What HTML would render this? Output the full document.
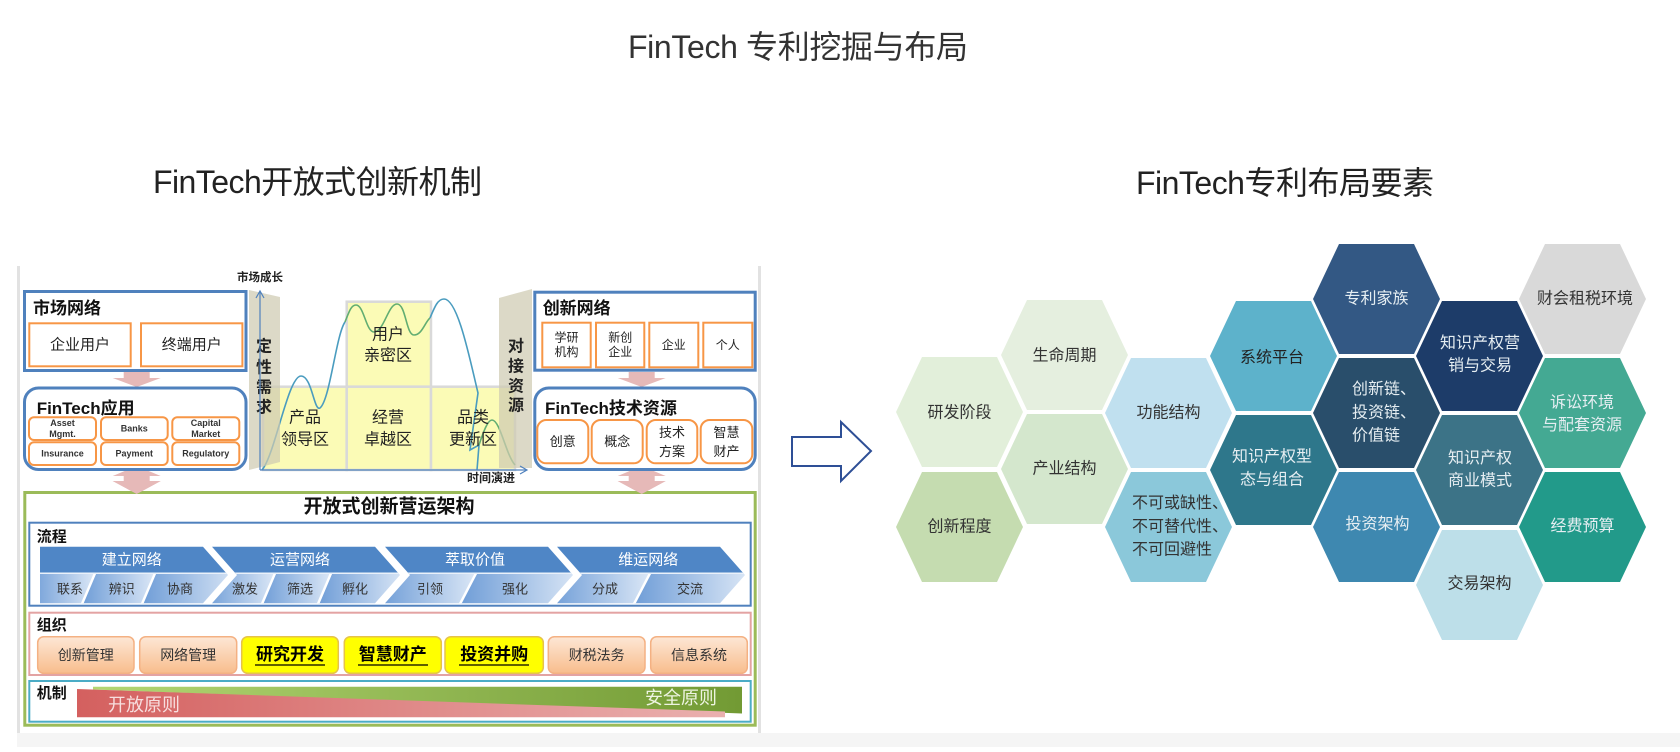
<!DOCTYPE html>
<html>
<head>
<meta charset="utf-8">
<style>
  html,body{margin:0;padding:0;background:#fff;}
  body{width:1680px;height:747px;overflow:hidden;}
  svg text{font-family:"Liberation Sans","Noto Sans CJK SC",sans-serif;}
</style>
</head>
<body>
<svg width="1680" height="747" viewBox="0 0 1680 747" xmlns="http://www.w3.org/2000/svg" xmlns:xlink="http://www.w3.org/1999/xlink">
  <defs>
    <polygon id="hx" points="0,55 26,0 101,0 127,55 101,110 26,110"/>
    <linearGradient id="lowg" x1="0" y1="0" x2="1" y2="0">
      <stop offset="0" stop-color="#6f9dd7"/>
      <stop offset="1" stop-color="#dbe7f6"/>
    </linearGradient>
    <linearGradient id="orang" x1="0" y1="0" x2="0" y2="1">
      <stop offset="0" stop-color="#fde7d6"/>
      <stop offset="1" stop-color="#f8bd8c"/>
    </linearGradient>
    <linearGradient id="greeng" x1="0" y1="0" x2="1" y2="0">
      <stop offset="0" stop-color="#b3d673"/>
      <stop offset="1" stop-color="#729a34"/>
    </linearGradient>
    <linearGradient id="redg" x1="0" y1="0" x2="1" y2="0">
      <stop offset="0" stop-color="#d4605f"/>
      <stop offset="1" stop-color="#eab0af"/>
    </linearGradient>
    <clipPath id="ch0"><polygon points="40,546.7 203,546.7 228,575 203,603.3 40,603.3"/></clipPath>
    <clipPath id="ch1"><polygon points="212,546.7 375,546.7 400,575 375,603.3 212,603.3 237,575"/></clipPath>
    <clipPath id="ch2"><polygon points="385,546.7 548,546.7 573,575 548,603.3 385,603.3 410,575"/></clipPath>
    <clipPath id="ch3"><polygon points="557,546.7 720,546.7 745,575 720,603.3 557,603.3 582,575"/></clipPath>
  </defs>

  <!-- Titles -->
  <text x="628" y="58" font-size="32" textLength="340" fill="#333">FinTech 专利挖掘与布局</text>
  <text x="153" y="193" font-size="32" textLength="329" fill="#222">FinTech开放式创新机制</text>
  <text x="1136" y="194" font-size="32" textLength="298" fill="#222">FinTech专利布局要素</text>

  <!-- Left diagram frame -->
  <rect x="17" y="266" width="3" height="467" fill="#e2e2e2"/>
  <rect x="758" y="266" width="3" height="467" fill="#e2e2e2"/>
  <rect x="17" y="733" width="1663" height="14" fill="#f5f5f5"/>

  <!-- Yellow grid -->
  <rect x="346.7" y="301.7" width="84.3" height="85" fill="#fbfbb6" stroke="#d9d9d9" stroke-width="2.5"/>
  <rect x="263" y="386.7" width="83.7" height="83.3" fill="#fbfbb6" stroke="#d9d9d9" stroke-width="2.5"/>
  <rect x="346.7" y="386.7" width="84.3" height="83.3" fill="#fbfbb6" stroke="#d9d9d9" stroke-width="2.5"/>
  <rect x="431" y="386.7" width="84" height="83.3" fill="#fbfbb6" stroke="#d9d9d9" stroke-width="2.5"/>

  <!-- Curve -->
  <path d="M262,470 C275,455 288,376 301,376 C312,376 314,412 320,408 C330,400 336,335 345,322" fill="none" stroke="#4a9cbf" stroke-width="1.6"/>
  <path d="M345,322 C349,312 351,305 356,305 C364,305 366,332 374,332 C384,332 388,304 397,304 C406,304 406,335 414,335 C422,335 425,322 430,318" fill="none" stroke="#62ad72" stroke-width="1.6"/>
  <path d="M430,318 C435,306 438,299 444,299 C458,299 470,360 478,393 L470,450 L479,445 L477,470" fill="none" stroke="#4a9cbf" stroke-width="1.6"/>
  <path d="M479,445 C484,430 488,420 492,420 C500,420 506,455 515,465" fill="none" stroke="#62ad72" stroke-width="1.6"/>

  <!-- Yellow cell text -->
  <g font-size="16" fill="#222" text-anchor="middle" dominant-baseline="central">
    <text x="388" y="335">用户</text>
    <text x="388" y="356">亲密区</text>
    <text x="305" y="418">产品</text>
    <text x="305" y="440">领导区</text>
    <text x="388" y="418">经营</text>
    <text x="388" y="440">卓越区</text>
    <text x="473" y="418">品类</text>
    <text x="473" y="440">更新区</text>
  </g>

  <!-- Gray bands -->
  <polygon points="249,290 280,297 280,462 249,470" fill="#cfcbb2" opacity="0.72"/>
  <polygon points="499,298 532,289 532,468 499,468" fill="#cfcbb2" opacity="0.72"/>
  <g font-size="16" font-weight="bold" fill="#222" text-anchor="middle" dominant-baseline="central">
    <text x="264" y="347">定</text>
    <text x="264" y="368">性</text>
    <text x="264" y="388">需</text>
    <text x="264" y="408">求</text>
    <text x="516" y="347">对</text>
    <text x="516" y="367">接</text>
    <text x="516" y="387">资</text>
    <text x="516" y="406">源</text>
  </g>

  <!-- Axes -->
  <line x1="260" y1="470" x2="260" y2="292" stroke="#4f81bd" stroke-width="1.2"/>
  <polyline points="256,298 260,291 264,298" fill="none" stroke="#4f81bd" stroke-width="1.2"/>
  <line x1="260" y1="470" x2="526" y2="470" stroke="#4f81bd" stroke-width="1.2"/>
  <polyline points="520,466 527,470 520,474" fill="none" stroke="#4f81bd" stroke-width="1.2"/>
  <text x="260" y="278" font-size="11.5" font-weight="bold" fill="#222" text-anchor="middle" dominant-baseline="central">市场成长</text>
  <text x="491" y="478" font-size="12" font-weight="bold" fill="#222" text-anchor="middle" dominant-baseline="central">时间演进</text>

  <!-- 市场网络 -->
  <rect x="24.5" y="291.5" width="221.5" height="79" fill="#fff" stroke="#4f81bd" stroke-width="3"/>
  <text x="33" y="314" font-size="17" font-weight="bold" fill="#111">市场网络</text>
  <rect x="29.3" y="323.3" width="101.4" height="43" fill="#fff" stroke="#f79646" stroke-width="2"/>
  <rect x="141" y="323.3" width="101.4" height="43" fill="#fff" stroke="#f79646" stroke-width="2"/>
  <g font-size="15" fill="#222" text-anchor="middle" dominant-baseline="central">
    <text x="80" y="345">企业用户</text>
    <text x="191.7" y="345">终端用户</text>
  </g>

  <!-- pink arrows left -->
  <polygon points="123.7,372 149.7,372 149.7,378 160.7,378 136.7,387 112.7,378 123.7,378" fill="#e6b9b8"/>
  <polygon points="136.7,466 160.7,476 149.7,476 149.7,481 160.7,481 136.7,494 112.7,481 123.7,481 123.7,476 112.7,476" fill="#e6b9b8"/>
  <!-- pink arrows right -->
  <polygon points="628.7,372 654.7,372 654.7,378 665.7,378 641.7,387 617.7,378 628.7,378" fill="#e6b9b8"/>
  <polygon points="641.7,466 665.7,476 654.7,476 654.7,481 665.7,481 641.7,494 617.7,481 628.7,481 628.7,476 617.7,476" fill="#e6b9b8"/>

  <!-- FinTech应用 -->
  <rect x="24.5" y="388" width="221.5" height="81.5" rx="14" fill="#fff" stroke="#4f81bd" stroke-width="3"/>
  <text x="36.7" y="414" font-size="17" font-weight="bold" fill="#111">FinTech应用</text>
  <g fill="#fff" stroke="#f79646" stroke-width="2">
    <rect x="29" y="417.3" width="67" height="22.7" rx="5"/>
    <rect x="101" y="417.3" width="66.7" height="22.7" rx="5"/>
    <rect x="172.3" y="417.3" width="67" height="22.7" rx="5"/>
    <rect x="29" y="442.3" width="67" height="22.7" rx="5"/>
    <rect x="101" y="442.3" width="66.7" height="22.7" rx="5"/>
    <rect x="172.3" y="442.3" width="67" height="22.7" rx="5"/>
  </g>
  <g font-size="9" font-weight="bold" fill="#333" text-anchor="middle" dominant-baseline="central">
    <text x="62.5" y="423">Asset</text>
    <text x="62.5" y="434">Mgmt.</text>
    <text x="134.3" y="428.5">Banks</text>
    <text x="205.8" y="423">Capital</text>
    <text x="205.8" y="434">Market</text>
    <text x="62.5" y="453.5">Insurance</text>
    <text x="134.3" y="453.5">Payment</text>
    <text x="205.8" y="453.5">Regulatory</text>
  </g>

  <!-- 创新网络 -->
  <rect x="534.8" y="292.2" width="220.4" height="78" fill="#fff" stroke="#4f81bd" stroke-width="3"/>
  <text x="542.7" y="314" font-size="17" font-weight="bold" fill="#111">创新网络</text>
  <g fill="#fff" stroke="#f79646" stroke-width="2">
    <rect x="542.3" y="322.7" width="48.4" height="44.6"/>
    <rect x="596" y="322.7" width="48.3" height="44.6"/>
    <rect x="649.3" y="322.7" width="49" height="44.6"/>
    <rect x="703.3" y="322.7" width="49" height="44.6"/>
  </g>
  <g font-size="12" fill="#222" text-anchor="middle" dominant-baseline="central">
    <text x="566.5" y="337.5">学研</text>
    <text x="566.5" y="352">机构</text>
    <text x="620.2" y="337.5">新创</text>
    <text x="620.2" y="352">企业</text>
    <text x="673.8" y="345">企业</text>
    <text x="727.8" y="345">个人</text>
  </g>

  <!-- FinTech技术资源 -->
  <rect x="534.8" y="388" width="220.4" height="81.5" rx="14" fill="#fff" stroke="#4f81bd" stroke-width="3"/>
  <text x="545" y="414" font-size="17" font-weight="bold" fill="#111">FinTech技术资源</text>
  <g fill="#fff" stroke="#f79646" stroke-width="2">
    <rect x="537.3" y="420" width="51" height="43.3" rx="9"/>
    <rect x="591.7" y="420" width="51" height="43.3" rx="9"/>
    <rect x="646.7" y="420" width="50.6" height="43.3" rx="9"/>
    <rect x="700.7" y="420" width="51.6" height="43.3" rx="9"/>
  </g>
  <g font-size="13" fill="#222" text-anchor="middle" dominant-baseline="central">
    <text x="562.8" y="441.7">创意</text>
    <text x="617.2" y="441.7">概念</text>
    <text x="672" y="432.3">技术</text>
    <text x="672" y="451.7">方案</text>
    <text x="726.5" y="432.3">智慧</text>
    <text x="726.5" y="451.7">财产</text>
  </g>

  <!-- Big green frame -->
  <rect x="24.8" y="492.5" width="730.4" height="232.7" fill="#fff" stroke="#9bbb59" stroke-width="3"/>
  <polygon points="123.7,481 149.7,481 160.7,481 136.7,494 112.7,481" fill="#e6b9b8"/>
  <polygon points="628.7,481 654.7,481 665.7,481 641.7,494 617.7,481" fill="#e6b9b8"/>
  <text x="389" y="507" font-size="19" font-weight="bold" fill="#111" text-anchor="middle" dominant-baseline="central">开放式创新营运架构</text>

  <!-- 流程 -->
  <rect x="29.3" y="522.7" width="721.4" height="83" fill="#fff" stroke="#4f81bd" stroke-width="2"/>
  <text x="36.7" y="537" font-size="15" font-weight="bold" fill="#111" dominant-baseline="central">流程</text>

  <g clip-path="url(#ch0)">
    <rect x="30" y="546" width="210" height="28" fill="#4f86c6"/>
    <polygon points="30,573.3 95,573.3 82,604 30,604" fill="url(#lowg)"/>
    <polygon points="95,573.3 155,573.3 142,604 82,604" fill="url(#lowg)"/>
    <polygon points="155,573.3 240,573.3 240,604 142,604" fill="url(#lowg)"/>
    <line x1="82" y1="604" x2="95" y2="573.3" stroke="#fff" stroke-width="2.5"/>
    <line x1="142" y1="604" x2="155" y2="573.3" stroke="#fff" stroke-width="2.5"/>
    <line x1="30" y1="573.3" x2="240" y2="573.3" stroke="#eaf1fa" stroke-width="1.5"/>
  </g>
  <g clip-path="url(#ch1)">
    <rect x="205" y="546" width="200" height="28" fill="#4f86c6"/>
    <polygon points="205,573.3 275,573.3 262,604 205,604" fill="url(#lowg)"/>
    <polygon points="275,573.3 331,573.3 318,604 262,604" fill="url(#lowg)"/>
    <polygon points="331,573.3 405,573.3 405,604 318,604" fill="url(#lowg)"/>
    <line x1="262" y1="604" x2="275" y2="573.3" stroke="#fff" stroke-width="2.5"/>
    <line x1="318" y1="604" x2="331" y2="573.3" stroke="#fff" stroke-width="2.5"/>
    <line x1="205" y1="573.3" x2="405" y2="573.3" stroke="#eaf1fa" stroke-width="1.5"/>
  </g>
  <g clip-path="url(#ch2)">
    <rect x="380" y="546" width="200" height="28" fill="#4f86c6"/>
    <polygon points="380,573.3 476,573.3 460,604 380,604" fill="url(#lowg)"/>
    <polygon points="476,573.3 580,573.3 580,604 460,604" fill="url(#lowg)"/>
    <line x1="460" y1="604" x2="476" y2="573.3" stroke="#fff" stroke-width="2.5"/>
    <line x1="380" y1="573.3" x2="580" y2="573.3" stroke="#eaf1fa" stroke-width="1.5"/>
  </g>
  <g clip-path="url(#ch3)">
    <rect x="550" y="546" width="200" height="28" fill="#4f86c6"/>
    <polygon points="550,573.3 650,573.3 634,604 550,604" fill="url(#lowg)"/>
    <polygon points="650,573.3 750,573.3 750,604 634,604" fill="url(#lowg)"/>
    <line x1="634" y1="604" x2="650" y2="573.3" stroke="#fff" stroke-width="2.5"/>
    <line x1="550" y1="573.3" x2="750" y2="573.3" stroke="#eaf1fa" stroke-width="1.5"/>
  </g>
  <g font-size="15" fill="#fff" text-anchor="middle" dominant-baseline="central">
    <text x="131.7" y="560">建立网络</text>
    <text x="300" y="560">运营网络</text>
    <text x="475" y="560">萃取价值</text>
    <text x="648.3" y="560">维运网络</text>
  </g>
  <g font-size="13" fill="#333" text-anchor="middle" dominant-baseline="central">
    <text x="70" y="589">联系</text>
    <text x="121.7" y="589">辨识</text>
    <text x="180" y="589">协商</text>
    <text x="245" y="589">激发</text>
    <text x="300" y="589">筛选</text>
    <text x="355" y="589">孵化</text>
    <text x="430" y="589">引领</text>
    <text x="515" y="589">强化</text>
    <text x="605" y="589">分成</text>
    <text x="690" y="589">交流</text>
  </g>

  <!-- 组织 -->
  <rect x="29.3" y="612.7" width="721.4" height="62.3" fill="#fff" stroke="#e3a3a3" stroke-width="2"/>
  <text x="36.7" y="625.5" font-size="15" font-weight="bold" fill="#111" dominant-baseline="central">组织</text>
  <g stroke-width="1.5">
    <rect x="37.7" y="636.7" width="96.3" height="36.6" rx="6" fill="url(#orang)" stroke="#f4b183"/>
    <rect x="139.7" y="636.7" width="97" height="36.6" rx="6" fill="url(#orang)" stroke="#f4b183"/>
    <rect x="241.7" y="636.7" width="96.6" height="36.6" rx="6" fill="#ffff00" stroke="#e6c34a"/>
    <rect x="344.3" y="636.7" width="97" height="36.6" rx="6" fill="#ffff00" stroke="#e6c34a"/>
    <rect x="445" y="636.7" width="98.3" height="36.6" rx="6" fill="#ffff00" stroke="#e6c34a"/>
    <rect x="548.3" y="636.7" width="96.7" height="36.6" rx="6" fill="url(#orang)" stroke="#f4b183"/>
    <rect x="650.7" y="636.7" width="96.6" height="36.6" rx="6" fill="url(#orang)" stroke="#f4b183"/>
  </g>
  <g font-size="14" fill="#333" text-anchor="middle" dominant-baseline="central">
    <text x="85.8" y="655">创新管理</text>
    <text x="188.2" y="655">网络管理</text>
    <text x="596.7" y="655">财税法务</text>
    <text x="699" y="655">信息系统</text>
  </g>
  <g font-size="17" font-weight="bold" fill="#000" text-anchor="middle" dominant-baseline="central">
    <text x="290" y="654.5">研究开发</text>
    <text x="392.8" y="654.5">智慧财产</text>
    <text x="494.2" y="654.5">投资并购</text>
  </g>
  <g stroke="#000" stroke-width="1.3">
    <line x1="255" y1="665" x2="325" y2="665"/>
    <line x1="358" y1="665" x2="428" y2="665"/>
    <line x1="459" y1="665" x2="529" y2="665"/>
  </g>

  <!-- 机制 -->
  <rect x="29.3" y="681" width="721.4" height="40.7" fill="#fff" stroke="#4bacc6" stroke-width="2"/>
  <text x="36.7" y="693.5" font-size="15" font-weight="bold" fill="#111" dominant-baseline="central">机制</text>
  <polygon points="93,686.7 742,686.7 742,713.5 93,689.5" fill="url(#greeng)"/>
  <polygon points="77,689 725,711.5 725,717.3 77,717.3" fill="url(#redg)"/>
  <text x="108" y="705" font-size="18" fill="#f7dede" dominant-baseline="central">开放原则</text>
  <text x="645" y="698" font-size="18" fill="#eef4e2" dominant-baseline="central">安全原则</text>

  <!-- Big arrow -->
  <polygon points="792,437 841,437 841,422 871,451 841,481 841,466 792,466" fill="#fff" stroke="#2e4f96" stroke-width="2"/>

  <!-- Hexagons -->
  <use xlink:href="#hx" href="#hx" x="896" y="357" fill="#e2efda"/>
  <use xlink:href="#hx" href="#hx" x="896" y="472" fill="#c5dcb0"/>
  <use xlink:href="#hx" href="#hx" x="1001" y="300" fill="#e5efdf"/>
  <use xlink:href="#hx" href="#hx" x="1001" y="414" fill="#d4e7cd"/>
  <use xlink:href="#hx" href="#hx" x="1105" y="358" fill="#c0e0ef"/>
  <use xlink:href="#hx" href="#hx" x="1105" y="472" fill="#8bc8da"/>
  <use xlink:href="#hx" href="#hx" x="1210" y="301" fill="#5db2cb"/>
  <use xlink:href="#hx" href="#hx" x="1210" y="415" fill="#2e778b"/>
  <use xlink:href="#hx" href="#hx" x="1313" y="244" fill="#335884"/>
  <use xlink:href="#hx" href="#hx" x="1313" y="358" fill="#294e6b"/>
  <use xlink:href="#hx" href="#hx" x="1313" y="472" fill="#3e88b0"/>
  <use xlink:href="#hx" href="#hx" x="1416" y="301" fill="#1d3c69"/>
  <use xlink:href="#hx" href="#hx" x="1416" y="415" fill="#3c7387"/>
  <use xlink:href="#hx" href="#hx" x="1416" y="530" fill="#bddfe9"/>
  <use xlink:href="#hx" href="#hx" x="1519" y="244" fill="#d9d9d9"/>
  <use xlink:href="#hx" href="#hx" x="1519" y="358" fill="#44a993"/>
  <use xlink:href="#hx" href="#hx" x="1519" y="472" fill="#229a8a"/>

  <g font-size="16" text-anchor="middle" dominant-baseline="central">
    <text x="959.5" y="413" fill="#333">研发阶段</text>
    <text x="959.5" y="527" fill="#333">创新程度</text>
    <text x="1064.5" y="356" fill="#333">生命周期</text>
    <text x="1064.5" y="469" fill="#333">产业结构</text>
    <text x="1168.5" y="413" fill="#333">功能结构</text>
    <text x="1272" y="358" fill="#222">系统平台</text>
    <text x="1272" y="457" fill="#e6eef2">知识产权型</text>
    <text x="1272" y="480" fill="#e6eef2">态与组合</text>
    <text x="1376.5" y="299" fill="#e6eef2">专利家族</text>
    <text x="1377.5" y="524.5" fill="#e6eef2">投资架构</text>
    <text x="1480" y="343.5" fill="#e6eef2">知识产权营</text>
    <text x="1480" y="366" fill="#e6eef2">销与交易</text>
    <text x="1480" y="458.5" fill="#e6eef2">知识产权</text>
    <text x="1480" y="481" fill="#e6eef2">商业模式</text>
    <text x="1479.5" y="584" fill="#333">交易架构</text>
    <text x="1585" y="299" fill="#333">财会租税环境</text>
    <text x="1582" y="403" fill="#e6eef2">诉讼环境</text>
    <text x="1582" y="425.5" fill="#e6eef2">与配套资源</text>
    <text x="1582.5" y="526.5" fill="#e6eef2">经费预算</text>
  </g>
  <g font-size="16" dominant-baseline="central">
    <text x="1132" y="503.5" fill="#333">不可或缺性、</text>
    <text x="1132" y="527" fill="#333">不可替代性、</text>
    <text x="1132" y="550" fill="#333">不可回避性</text>
    <text x="1352" y="389.5" fill="#e6eef2">创新链、</text>
    <text x="1352" y="413" fill="#e6eef2">投资链、</text>
    <text x="1352" y="436" fill="#e6eef2">价值链</text>
  </g>
</svg>
</body>
</html>
